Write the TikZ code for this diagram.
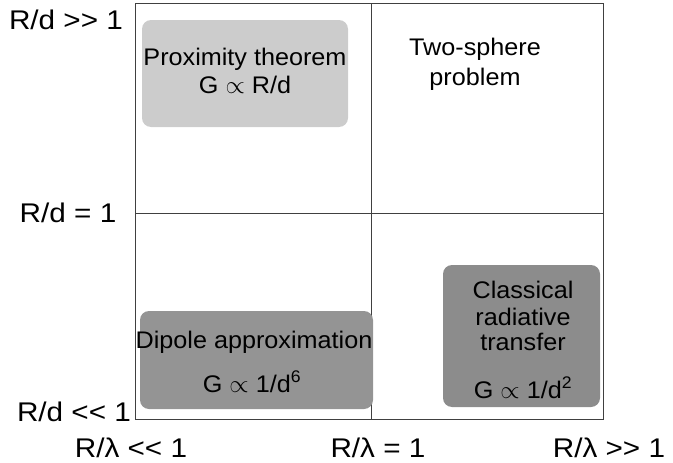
\documentclass[tikz,border=0pt]{standalone}
\usepackage{fontspec}
\setmainfont{Liberation Sans}[FakeStretch=1.05,Ligatures=TeXOff]
\newfontfamily\labelfont{Liberation Sans}[FakeStretch=1.1,Ligatures=TeXOff]
\begin{document}
\begin{tikzpicture}[x=1pt,y=-1pt,
  frameline/.style={draw=black!75, line width=0.8pt},
  region/.style={rounded corners=9pt, inner sep=0pt},
  lightregion/.style={region, fill=black!20},
  darkregion/.style={region, fill=black!42},
  axislabel/.style={anchor=base, inner sep=0pt, font=\labelfont\fontsize{27}{32}\selectfont},
  boxtext/.style={anchor=base, inner sep=0pt, font=\fontsize{24}{28}\selectfont}]
\useasboundingbox (0,0) rectangle (673,463);
% quadrant frame
\coordinate (tl) at (135,3);
\coordinate (br) at (603,419);
\coordinate (mt) at (371,3);
\coordinate (mb) at (371,419);
\coordinate (ml) at (135,213);
\coordinate (mr) at (603,213);
\draw[frameline] (tl) rectangle (br);
\draw[frameline] (mt) -- (mb);
\draw[frameline] (ml) -- (mr);
% regions
\node[lightregion, minimum width=206pt, minimum height=107pt] (prox) at (245,73.5) {};
\node[darkregion, minimum width=233pt, minimum height=98pt] (dip) at (256.5,360) {};
\node[darkregion, fill=black!45, minimum width=157pt, minimum height=142pt] (clas) at (521.5,336) {};
% region texts
\node[boxtext] (prox1) at (245,65) {Proximity theorem};
\node[boxtext] (prox2) at (245,93) {G $\propto$ R/d};
\node[boxtext] (two1) at (475,55) {Two-sphere};
\node[boxtext] (two2) at (475,85) {problem};
\node[boxtext] (dip1) at (254,348) {Dipole approximation};
\node[boxtext] (dip2) at (252,392) {G $\propto$ 1/d\textsuperscript{6}};
\node[boxtext] (cl1) at (523,298) {Classical};
\node[boxtext] (cl2) at (523,325) {radiative};
\node[boxtext] (cl3) at (523,350) {transfer};
\node[boxtext] (cl4) at (523,398) {G $\propto$ 1/d\textsuperscript{2}};
% axis labels
\node[axislabel] (ya) at (66,30) {R/d >> 1};
\node[axislabel] (yb) at (68,222) {R/d = 1};
\node[axislabel] (yc) at (74,421) {R/d << 1};
\node[axislabel] (xa) at (131,457) {R/λ << 1};
\node[axislabel] (xb) at (378,457) {R/λ = 1};
\node[axislabel] (xc) at (609,457) {R/λ >> 1};
\end{tikzpicture}
\end{document}
